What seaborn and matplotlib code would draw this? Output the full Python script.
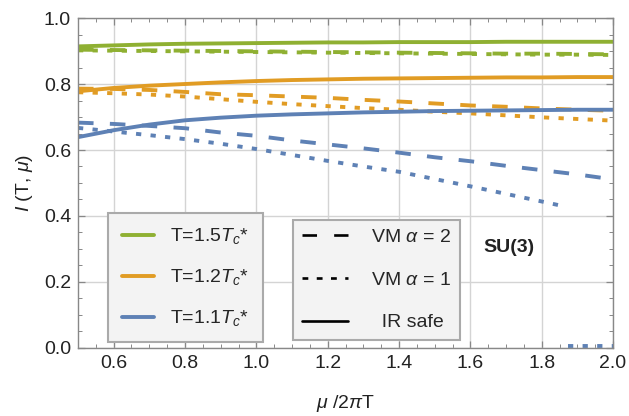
import matplotlib
matplotlib.use("Agg")
import matplotlib.pyplot as plt
from matplotlib.lines import Line2D
from matplotlib.ticker import MultipleLocator
import seaborn as sns
import pandas as pd

# data
mu = [0.5, 0.6, 0.7, 0.8, 0.9, 1.0, 1.1, 1.2, 1.3, 1.4, 1.5, 1.6, 1.7, 1.8, 1.9, 2.0]

g_ir = [0.914, 0.917, 0.920, 0.922, 0.923, 0.924, 0.925, 0.926, 0.926, 0.927, 0.927, 0.927, 0.928, 0.928, 0.928, 0.928]
g_vm2 = [0.904, 0.903, 0.902, 0.901, 0.900, 0.899, 0.898, 0.897, 0.896, 0.895, 0.894, 0.893, 0.892, 0.892, 0.891, 0.890]
g_vm1 = [0.902, 0.901, 0.900, 0.899, 0.898, 0.897, 0.896, 0.895, 0.894, 0.893, 0.892, 0.891, 0.890, 0.889, 0.889, 0.888]

o_ir = [0.778, 0.788, 0.795, 0.800, 0.805, 0.809, 0.812, 0.814, 0.816, 0.817, 0.818, 0.819, 0.820, 0.820, 0.821, 0.821]
o_vm2 = [0.786, 0.785, 0.782, 0.776, 0.769, 0.766, 0.762, 0.758, 0.752, 0.747, 0.741, 0.735, 0.731, 0.726, 0.722, 0.719]
o_vm1 = [0.775, 0.772, 0.768, 0.762, 0.754, 0.746, 0.739, 0.733, 0.727, 0.722, 0.716, 0.711, 0.705, 0.699, 0.694, 0.689]

b_ir = [0.639, 0.660, 0.677, 0.690, 0.698, 0.704, 0.708, 0.711, 0.714, 0.716, 0.718, 0.719, 0.720, 0.721, 0.722, 0.722]
b_vm2 = [0.683, 0.679, 0.673, 0.666, 0.653, 0.643, 0.629, 0.617, 0.605, 0.592, 0.578, 0.566, 0.552, 0.539, 0.526, 0.511]
# VM alpha=1 for T=1.1 leaves the frame near mu=1.86 and comes back at the bottom edge
mu_b1 = [0.5, 0.6, 0.7, 0.8, 0.9, 1.0, 1.1, 1.2, 1.3, 1.4, 1.5, 1.6, 1.7, 1.8, 1.86]
b_vm1 = [0.667, 0.656, 0.645, 0.633, 0.619, 0.603, 0.585, 0.567, 0.550, 0.534, 0.512, 0.490, 0.467, 0.444, 0.430]
mu_b1_low = [1.875, 1.94, 2.0]
b_vm1_low = [0.005, 0.005, 0.005]

temps = ["T=1.5$T_c$*", "T=1.2$T_c$*", "T=1.1$T_c$*"]
models = ["VM $\\alpha$ = 2", "VM $\\alpha$ = 1", "IR safe"]
colors = {temps[0]: "#8FB032", temps[1]: "#E19C24", temps[2]: "#5E81B5"}
dash_map = {models[0]: (4.0, 4.2), models[1]: (1.35, 2.4), models[2]: ""}

rows = []
def add(xs, ys, t, m, seg):
    for x, y in zip(xs, ys):
        rows.append({"mu": x, "I": y, "T": t, "model": m, "seg": seg})

add(mu, g_ir, temps[0], models[2], "g_ir")
add(mu, g_vm2, temps[0], models[0], "g_vm2")
add(mu, g_vm1, temps[0], models[1], "g_vm1")
add(mu, o_ir, temps[1], models[2], "o_ir")
add(mu, o_vm2, temps[1], models[0], "o_vm2")
add(mu, o_vm1, temps[1], models[1], "o_vm1")
add(mu, b_ir, temps[2], models[2], "b_ir")
add(mu, b_vm2, temps[2], models[0], "b_vm2")
add(mu_b1, b_vm1, temps[2], models[1], "b_vm1")
add(mu_b1_low, b_vm1_low, temps[2], models[1], "b_vm1_low")
df = pd.DataFrame(rows)

sns.set_style("ticks")
plt.rcParams["font.family"] = ["Liberation Sans", "DejaVu Sans"]
plt.rcParams["mathtext.fontset"] = "custom"
plt.rcParams["mathtext.rm"] = "Liberation Sans"
plt.rcParams["mathtext.it"] = "Liberation Sans:italic"
plt.rcParams["mathtext.bf"] = "Liberation Sans:bold"

FS = 14
fig = plt.figure(figsize=(6.29, 4.16), dpi=100)
ax = fig.add_axes([0.124, 0.1635, 0.8506, 0.7932])

sns.lineplot(data=df, x="mu", y="I", hue="T", style="model", units="seg",
             estimator=None, palette=colors, dashes=dash_map, sort=False,
             linewidth=2.8, legend=False, ax=ax)

ax.set_xlim(0.5, 2.0)
ax.set_ylim(0.0, 1.0)
ax.xaxis.set_minor_locator(MultipleLocator(0.05))
ax.yaxis.set_minor_locator(MultipleLocator(0.05))
ax.set_xticks([0.6, 0.8, 1.0, 1.2, 1.4, 1.6, 1.8, 2.0])
ax.set_xticklabels(["0.6", "0.8", "1.0", "1.2", "1.4", "1.6", "1.8", "2.0"])
ax.set_yticks([0.0, 0.2, 0.4, 0.6, 0.8, 1.0])
ax.set_yticklabels(["0.0", "0.2", "0.4", "0.6", "0.8", "1.0"])
ax.grid(True, which="major", color="#d4d4d4", linewidth=1.0)
ax.tick_params(which="both", direction="in", top=True, right=True,
               color="#888888", labelsize=FS, labelcolor="#222222", pad=5)
ax.tick_params(which="major", length=5, width=0.9)
ax.tick_params(which="minor", length=3, width=0.7)
for sp in ax.spines.values():
    sp.set_color("#888888")
    sp.set_linewidth(1.0)

ax.set_xlabel("$\\mu$ /2$\\pi$T", fontsize=FS, color="#222222", labelpad=15)
ax.set_ylabel("$I$ (T, $\\mu$)", fontsize=FS, color="#222222", labelpad=6)

ax.text(0.805, 0.305, "SU(3)", transform=ax.transAxes, fontsize=14,
        fontweight="bold", ha="center", va="center", color="#222222")

# temperature legend
h1 = [Line2D([], [], color=colors[t], linewidth=2.8) for t in temps]
leg1 = ax.legend(h1, temps, loc="lower left", bbox_to_anchor=(0.056, 0.018),
                 fontsize=FS, frameon=True, fancybox=False, framealpha=1,
                 facecolor="#f3f3f3", edgecolor="#aaaaaa", labelspacing=1.08,
                 handlelength=1.65, handletextpad=0.85, borderpad=0.7,
                 borderaxespad=0)
leg1.get_frame().set_linewidth(1.5)
ax.add_artist(leg1)

# model legend, labels right-aligned as in the reference
h2 = [Line2D([], [], color="black", linewidth=1.9, dashes=(5.5, 6.5)),
      Line2D([], [], color="black", linewidth=1.9, dashes=(2.2, 3.2)),
      Line2D([], [], color="black", linewidth=1.9)]
labels2 = [models[0], models[1], "  " + models[2]]
leg2 = ax.legend(h2, labels2, loc="lower left", bbox_to_anchor=(0.402, 0.024),
                 fontsize=FS, frameon=True, fancybox=False, framealpha=1,
                 facecolor="#f3f3f3", edgecolor="#aaaaaa", labelspacing=1.29,
                 handlelength=2.4, handletextpad=1.18, borderpad=0.45,
                 borderaxespad=0)
leg2.get_frame().set_linewidth(1.5)

fig.savefig("out.png", dpi=100)
